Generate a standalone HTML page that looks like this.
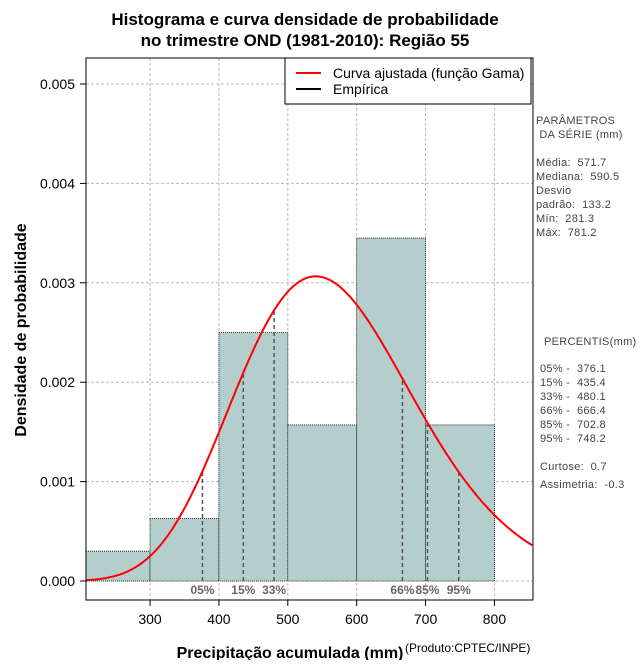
<!DOCTYPE html>
<html><head><meta charset="utf-8"><style>
body{margin:0;background:#fff;}
svg text{font-family:"Liberation Sans",sans-serif;white-space:pre;}
</style></head><body>
<svg id="c" width="640" height="660" xmlns="http://www.w3.org/2000/svg">
<text x="305" y="25" text-anchor="middle" font-size="17" font-weight="bold">Histograma e curva densidade de probabilidade</text>
<text x="305" y="46" text-anchor="middle" font-size="17" font-weight="bold">no trimestre OND (1981-2010): Região 55</text>
<g id="grid"></g><g id="bars"></g><g id="pct"></g><g id="curve"></g><g id="axes"></g>
<rect x="86" y="58" width="447" height="542" fill="none" stroke="#000" stroke-width="1"/>
<g>
<rect x="285" y="58" width="246" height="46" fill="#fff" stroke="#000"/>
<line x1="296" y1="73" x2="321" y2="73" stroke="red" stroke-width="2"/>
<text x="333" y="78" font-size="14">Curva ajustada (função Gama)</text>
<line x1="296" y1="89" x2="321" y2="89" stroke="#000" stroke-width="2"/>
<text x="333" y="94" font-size="14">Empírica</text>
</g>
<g font-size="11" fill="#444" letter-spacing="0.3">
<text x="536" y="124">PARÂMETROS</text><text x="536" y="138"> DA SÉRIE (mm)</text>
<text x="536" y="166">Média:  571.7</text><text x="536" y="180">Mediana:  590.5</text>
<text x="536" y="194">Desvio</text><text x="536" y="208">padrão:  133.2</text>
<text x="536" y="222">Mín:  281.3</text><text x="536" y="236">Máx:  781.2</text>
</g>
<g font-size="11" fill="#444" letter-spacing="0.3">
<text x="544" y="345">PERCENTIS(mm)</text>
<text x="540" y="372">05% -  376.1</text><text x="540" y="386">15% -  435.4</text>
<text x="540" y="400">33% -  480.1</text><text x="540" y="414">66% -  666.4</text>
<text x="540" y="428">85% -  702.8</text><text x="540" y="442">95% -  748.2</text>
<text x="540" y="470">Curtose:  0.7</text><text x="540" y="488">Assimetria:  -0.3</text>
</g>
<text x="290" y="658" text-anchor="middle" font-size="16" font-weight="bold">Precipitação acumulada (mm)</text>
<text x="405" y="652" font-size="12">(Produto:CPTEC/INPE)</text>
<text transform="translate(26,330) rotate(-90)" text-anchor="middle" font-size="16" font-weight="bold">Densidade de probabilidade</text>
</svg>
<script>
const binEdges=[200,300,400,500,600,700];
const binWidth=100;
const density=[0.00030,0.00063,0.00250,0.00157,0.00345,0.00157];
const xTicks=[300,400,500,600,700,800];
const yTicks=[0,0.001,0.002,0.003,0.004,0.005];
const yTickLabels=["0.000","0.001","0.002","0.003","0.004","0.005"];
const pctValues=[376.1,435.4,480.1,666.4,702.8,748.2];
const pctLabels=["05%","15%","33%","66%","85%","95%"];
const gammaMean=[571.7];
const gammaSd=[133.2];
const X0=207,X1=856,PX0=86,PX1=533,Y0=581,YS=99400;
const sx=v=>PX0+(v-X0)*(PX1-PX0)/(X1-X0);
const sy=v=>Y0-v*YS;
const NS="http://www.w3.org/2000/svg";
function mk(p,t,a){const e=document.createElementNS(NS,t);for(const k in a)e.setAttribute(k,a[k]);document.getElementById(p).appendChild(e);return e;}
function lg(z){const c=[76.18009172947146,-86.50532032941677,24.01409824083091,-1.231739572450155,0.1208650973866179e-2,-0.5395239384953e-5];let x=z,y=z,t=x+5.5;t-=(x+0.5)*Math.log(t);let s=1.000000000190015;for(let j=0;j<6;j++)s+=c[j]/++y;return -t+Math.log(2.5066282746310005*s/x);}
const k=Math.pow(gammaMean[0]/gammaSd[0],2),th=gammaSd[0]*gammaSd[0]/gammaMean[0];
const pdf=x=>Math.exp((k-1)*Math.log(x)-x/th-lg(k)-k*Math.log(th));
xTicks.forEach(v=>{const l=mk('grid','line',{x1:sx(v),x2:sx(v),y1:58,y2:600,stroke:'#bbb','stroke-dasharray':'3,2'});});
yTicks.forEach(v=>{const l=mk('grid','line',{x1:86,x2:533,y1:sy(v),y2:sy(v),stroke:'#bbb','stroke-dasharray':'3,2'});});
binEdges.forEach((b,i)=>{const xa=Math.max(sx(b),PX0),xb=sx(b+binWidth);const r=mk('bars','rect',{x:xa,y:sy(density[i]),width:xb-xa,height:sy(0)-sy(density[i]),fill:'#b4cece',stroke:'#000','stroke-width':0.8,'stroke-dasharray':'1,1'});});
pctValues.forEach((v,i)=>{const l=mk('pct','line',{x1:sx(v),x2:sx(v),y1:sy(0),y2:sy(pdf(v)),stroke:'#555','stroke-width':1.5,'stroke-dasharray':'4,3'});
const t=mk('pct','text',{x:sx(v),y:594,'text-anchor':'middle','font-size':12,'font-weight':'bold',fill:'#666'});t.textContent=pctLabels[i];});
let d='';for(let x=X0;x<=X1;x+=2){d+=(d?'L':'M')+sx(x).toFixed(1)+','+sy(pdf(x)).toFixed(1);}
const p=mk('curve','path',{d:d,fill:'none',stroke:'red','stroke-width':2});
xTicks.forEach(v=>{mk('axes','line',{x1:sx(v),x2:sx(v),y1:600,y2:606,stroke:'#000'});const t=mk('axes','text',{x:sx(v),y:624,'text-anchor':'middle','font-size':14});t.textContent=v;});
yTicks.forEach((v,i)=>{mk('axes','line',{x1:80,x2:86,y1:sy(v),y2:sy(v),stroke:'#000'});const t=mk('axes','text',{x:75,y:sy(v)+5,'text-anchor':'end','font-size':14});t.textContent=yTickLabels[i];});
</script>
</body></html>
